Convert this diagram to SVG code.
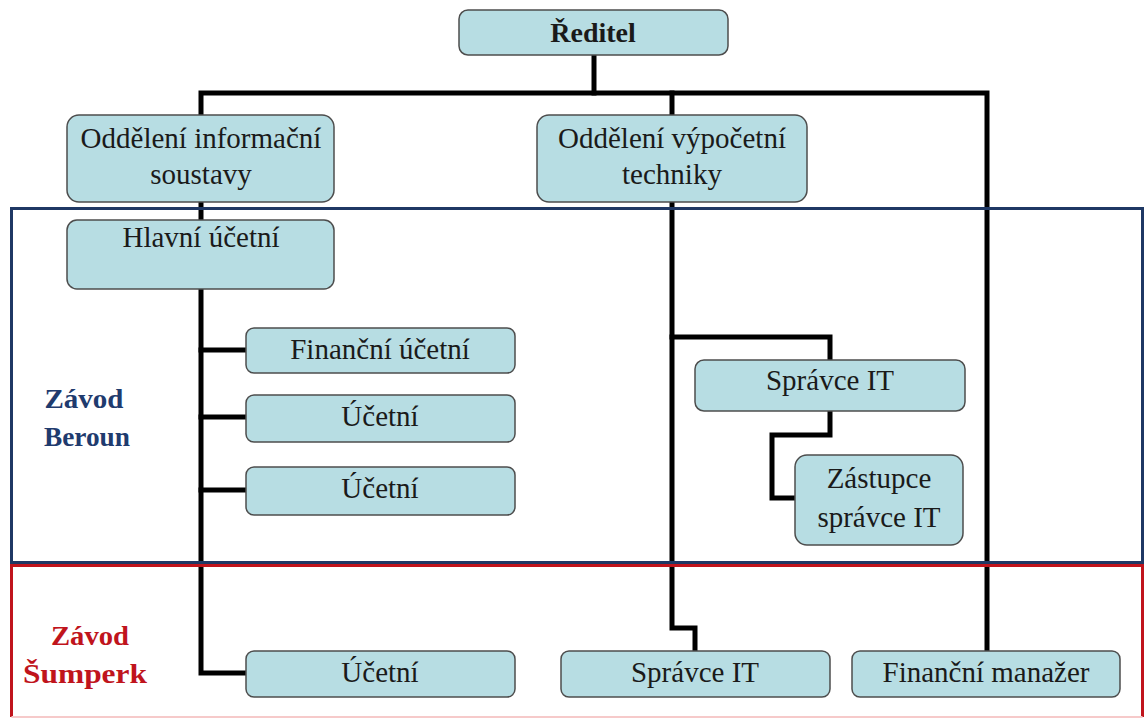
<svg xmlns="http://www.w3.org/2000/svg" width="1146" height="719" viewBox="0 0 1146 719">
  <style>
    .box { fill: #b7dde3; stroke: #4d4d4d; stroke-width: 1.5; }
    .t { font-family: "Liberation Serif", "Times New Roman", serif; font-size: 29px; fill: #1a1a1a; text-anchor: middle; }
    .tb { font-weight: bold; font-size: 28px; }
    .wire { fill: none; stroke: #000; stroke-width: 5; stroke-linejoin: miter; stroke-linecap: square; }
    .lbl { font-family: "Liberation Serif", "Times New Roman", serif; font-size: 28px; font-weight: bold; text-anchor: middle; }
  </style>
  <rect width="1146" height="719" fill="#ffffff"/>

  <!-- connectors -->
  <g id="connectors">
    <path class="wire" d="M594 56 V93"/>
    <path class="wire" d="M201 115 V93 H987 V651"/>
    <path class="wire" d="M672 93 V115"/>
    <path class="wire" d="M201 202 V220"/>
    <path class="wire" d="M201 289 V673 H246"/>
    <path class="wire" d="M201 350 H246"/>
    <path class="wire" d="M201 417 H246"/>
    <path class="wire" d="M201 490 H246"/>
    <path class="wire" d="M672 202 V628 H695 V651"/>
    <path class="wire" d="M672 337 H830 V360"/>
    <path class="wire" d="M830 411 V435 H772 V498 H795"/>
  </g>

  <!-- plant frames -->
  <g id="zavod-beroun">
    <rect x="11.5" y="208.5" width="1131" height="354" fill="none" stroke="#1f3864" stroke-width="3"/>
    <text class="lbl" fill="#1f3b6e" x="84" y="408" textLength="79" lengthAdjust="spacingAndGlyphs">Závod</text>
    <text class="lbl" fill="#1f3b6e" x="87" y="446" textLength="86" lengthAdjust="spacingAndGlyphs">Beroun</text>
  </g>
  <g id="zavod-sumperk">
    <path d="M11.5 717 V565.5 H1142.5 V717" fill="none" stroke="#c0141c" stroke-width="3"/>
    <path d="M11.5 717 H1142.5" fill="none" stroke="#f6caca" stroke-width="2"/>
    <text class="lbl" fill="#c0141c" x="90" y="645" textLength="78" lengthAdjust="spacingAndGlyphs">Závod</text>
    <text class="lbl" fill="#c0141c" x="85" y="683" textLength="124" lengthAdjust="spacingAndGlyphs">Šumperk</text>
  </g>

  <!-- nodes -->
  <g id="reditel">
    <rect class="box" x="459" y="10" width="269" height="45" rx="9"/>
    <text class="t tb" x="593" y="42">Ředitel</text>
  </g>
  <g id="odd-informacni">
    <rect class="box" x="67" y="115" width="267" height="87" rx="12"/>
    <text class="t" x="201" y="148">Oddělení informační</text>
    <text class="t" x="201" y="184">soustavy</text>
  </g>
  <g id="odd-vypocetni">
    <rect class="box" x="537" y="115" width="270" height="87" rx="12"/>
    <text class="t" x="672" y="148">Oddělení výpočetní</text>
    <text class="t" x="672" y="184">techniky</text>
  </g>
  <g id="hlavni-ucetni">
    <rect class="box" x="67" y="220" width="267" height="69" rx="10"/>
    <text class="t" x="201" y="247">Hlavní účetní</text>
  </g>
  <g id="financni-ucetni">
    <rect class="box" x="246" y="328" width="269" height="45" rx="8"/>
    <text class="t" x="380" y="359">Finanční účetní</text>
  </g>
  <g id="ucetni-1">
    <rect class="box" x="246" y="395" width="269" height="47" rx="8"/>
    <text class="t" x="380" y="426">Účetní</text>
  </g>
  <g id="ucetni-2">
    <rect class="box" x="246" y="467" width="269" height="48" rx="8"/>
    <text class="t" x="380" y="498">Účetní</text>
  </g>
  <g id="spravce-it-beroun">
    <rect class="box" x="695" y="360" width="270" height="51" rx="9"/>
    <text class="t" x="830" y="390">Správce IT</text>
  </g>
  <g id="zastupce-spravce-it">
    <rect class="box" x="795" y="455" width="168" height="90" rx="12"/>
    <text class="t" x="879" y="488">Zástupce</text>
    <text class="t" x="879" y="527">správce IT</text>
  </g>
  <g id="ucetni-sumperk">
    <rect class="box" x="246" y="651" width="269" height="46" rx="8"/>
    <text class="t" x="380" y="682">Účetní</text>
  </g>
  <g id="spravce-it-sumperk">
    <rect class="box" x="561" y="651" width="269" height="46" rx="8"/>
    <text class="t" x="695" y="682">Správce IT</text>
  </g>
  <g id="financni-manazer">
    <rect class="box" x="852" y="651" width="268" height="46" rx="8"/>
    <text class="t" x="986" y="682">Finanční manažer</text>
  </g>
</svg>
